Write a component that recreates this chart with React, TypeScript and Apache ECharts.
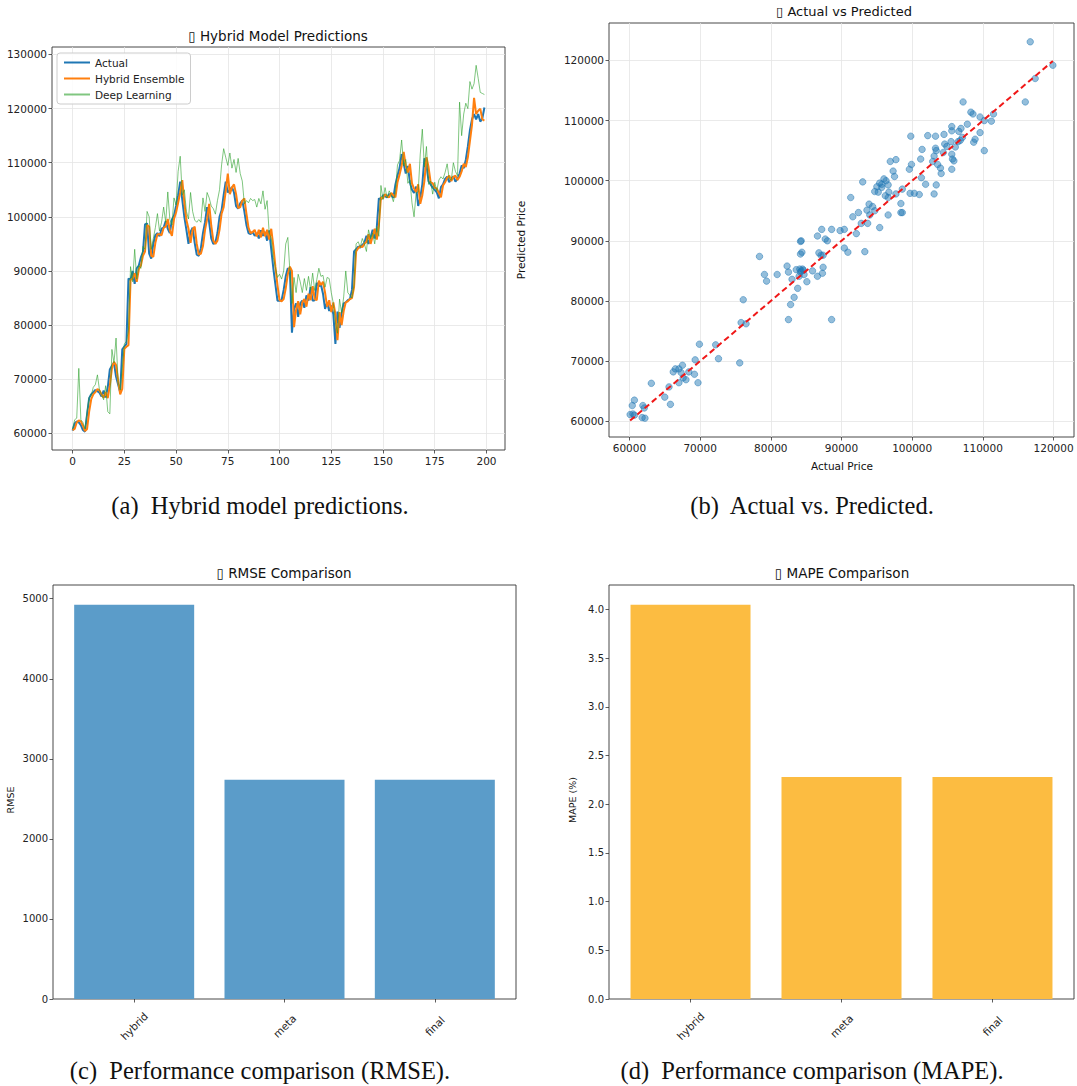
import React, { useEffect, useRef } from 'react';
import * as echarts from 'echarts';

// ---- Daily price series (thousands of USD), 200 test steps ----
const actualK = [
  60.5, 61.8, 62.2, 62.0, 61.5, 60.6, 60.3, 63.5, 66.5, 67.2,
  67.6, 68.0, 67.8, 67.5, 66.8, 67.9, 66.6, 68.5, 71.8, 72.5,
  73.0, 70.5, 69.0, 67.6, 75.5, 76.0, 76.5, 88.6, 88.4, 90.0,
  87.6, 90.5, 91.0, 92.5, 93.5, 98.6, 98.8, 93.2, 92.3, 95.0,
  96.6, 97.0, 96.4, 97.8, 98.0, 99.2, 97.8, 97.0, 99.5, 100.2,
  102.0, 104.0, 106.5, 103.2, 100.0, 97.6, 95.0, 97.2, 98.0, 95.2,
  93.0, 92.8, 94.2, 97.0, 99.0, 101.8, 99.0, 96.0, 95.0, 95.2,
  97.0, 100.0, 101.2, 104.0, 106.5, 104.5, 105.0, 105.5, 104.5, 102.0,
  101.5, 102.5, 103.0, 101.0, 98.5, 97.0, 96.8, 97.2, 96.5, 97.0,
  96.0, 97.5, 96.5, 97.2, 95.6, 97.5, 94.0, 90.5, 87.5, 84.5,
  84.5, 84.6, 86.5, 89.0, 90.5, 90.2, 78.6, 83.0, 84.0, 81.5,
  84.0, 84.5, 83.2, 85.5, 84.5, 87.0, 84.5, 84.6, 87.8, 87.2,
  87.5, 85.8, 83.0, 84.2, 82.6, 83.6, 82.0, 76.5, 82.5, 79.5,
  82.2, 84.0, 84.2, 84.6, 84.8, 86.5, 93.6, 94.0, 94.5, 94.3,
  94.8, 95.2, 96.5, 95.0, 96.2, 97.6, 96.0, 98.0, 103.4, 103.2,
  104.0, 103.8, 103.6, 104.2, 104.0, 103.5, 106.0, 107.6, 109.0, 111.6,
  109.8, 108.0, 109.4, 106.4, 105.0, 104.4, 105.6, 102.0, 103.5, 106.0,
  110.8, 109.5, 106.6, 106.0, 105.4, 105.0, 104.5, 103.4, 105.5, 106.0,
  107.0, 107.4, 106.4, 107.0, 107.5, 106.5, 107.0, 108.0, 109.5, 109.0,
  110.5, 113.0, 116.0, 118.0, 119.0, 118.0, 119.0, 117.6, 118.2, 120.2,
];

const hybridK = [
  60.6, 60.8, 62.0, 62.4, 62.2, 61.4, 60.4, 60.8, 64.0, 66.3,
  67.2, 67.6, 68.2, 67.9, 67.2, 66.6, 67.6, 66.5, 68.8, 72.0,
  73.2, 72.6, 69.8, 67.2, 68.2, 75.6, 76.0, 76.3, 88.3, 88.6,
  89.6, 88.0, 90.3, 91.0, 92.8, 93.6, 98.5, 98.2, 92.8, 92.6,
  95.2, 96.8, 96.8, 96.6, 98.0, 98.2, 99.6, 97.5, 96.5, 99.6,
  100.8, 102.6, 104.5, 106.8, 102.6, 99.4, 97.8, 95.2, 97.6, 98.2,
  95.0, 93.0, 93.2, 94.6, 97.6, 99.6, 102.4, 98.4, 95.6, 95.0,
  95.6, 97.6, 100.6, 101.8, 104.8, 108.0, 104.2, 105.4, 106.0, 104.2,
  101.6, 101.8, 103.0, 103.4, 100.6, 98.0, 97.0, 97.2, 97.6, 96.4,
  97.6, 96.2, 98.0, 96.4, 97.6, 95.8, 97.8, 94.6, 90.8, 87.4,
  84.6, 84.4, 84.8, 86.8, 89.4, 90.8, 90.0, 79.6, 82.8, 84.4,
  82.0, 84.2, 84.8, 83.4, 85.8, 84.6, 87.2, 84.8, 84.6, 88.2,
  87.4, 88.0, 86.0, 83.4, 84.6, 82.4, 84.2, 82.0, 77.2, 82.4,
  80.0, 82.6, 84.2, 84.4, 84.8, 85.0, 87.0, 93.6, 94.2, 94.6,
  94.4, 95.0, 95.4, 96.8, 95.0, 96.4, 97.8, 95.8, 98.4, 103.6,
  103.4, 104.2, 103.8, 103.6, 104.4, 104.0, 103.6, 106.4, 107.8, 109.4,
  112.0, 109.4, 108.2, 109.8, 106.2, 105.2, 104.6, 106.0, 102.4, 104.0,
  106.6, 111.0, 109.2, 106.4, 106.2, 105.4, 105.2, 104.4, 103.6, 105.8,
  106.4, 107.2, 107.6, 106.6, 107.4, 107.6, 106.8, 107.4, 108.4, 109.8,
  109.2, 111.0, 114.0, 117.0, 122.0, 119.0, 119.6, 120.0, 118.0, 117.8,
];

const deepK = [
  60.8, 62.5, 62.8, 72.0, 62.5, 62.0, 60.8, 64.0, 66.6, 67.0,
  68.5, 69.0, 70.8, 68.0, 67.2, 66.2, 68.8, 64.0, 63.6, 75.5,
  73.0, 77.6, 69.5, 68.0, 72.0, 76.5, 77.0, 79.0, 90.8, 88.0,
  94.0, 88.5, 91.0, 90.5, 94.5, 94.0, 101.0, 100.0, 94.0, 96.0,
  98.0, 100.6, 97.4, 99.0, 101.8, 99.0, 104.6, 99.5, 98.5, 103.5,
  102.2, 108.4, 111.2, 104.0, 105.0, 101.0, 99.6, 104.5, 101.0, 99.4,
  99.0, 99.5, 99.0, 103.5, 101.0, 104.5, 103.5, 102.0, 101.5, 100.5,
  103.0, 105.0, 109.6, 112.6, 111.0, 109.5, 111.8, 109.0, 110.6, 108.2,
  110.8, 108.0, 106.6, 102.4, 103.0, 102.6, 103.4, 103.0, 103.2, 101.8,
  103.4, 102.4, 104.8, 101.4, 103.0, 97.0, 96.0, 92.5, 90.6, 88.8,
  89.4, 88.5, 90.0, 95.0, 96.2, 90.0, 84.0, 88.8, 86.0, 89.4,
  88.0, 86.0, 88.6, 86.4, 89.0, 86.5, 89.6, 86.4, 88.4, 90.5,
  89.0, 89.2, 87.0, 88.8, 88.6, 86.0, 84.0, 80.5, 78.5, 84.8,
  82.2, 85.2, 90.0, 86.0, 85.5, 85.0, 87.4, 95.0, 95.4, 94.4,
  96.0, 95.0, 93.6, 97.6, 96.0, 97.0, 95.0, 98.2, 96.4, 105.8,
  103.2, 105.4, 103.5, 104.8, 104.0, 102.8, 104.6, 109.6, 110.4, 114.2,
  109.4, 110.6, 106.2, 106.8, 102.6, 100.0, 104.4, 104.6, 111.6, 116.2,
  109.2, 113.0, 106.0, 106.6, 104.2, 106.4, 104.8, 106.8, 107.4, 107.0,
  108.2, 109.8, 107.0, 106.8, 110.0, 108.4, 107.6, 121.2, 115.0, 119.0,
  121.0, 120.0, 125.0, 123.6, 124.6, 128.0, 125.6, 123.0, 122.8, 122.6,
];

// ---- Actual vs predicted pairs (thousands of USD) ----
const scatterActualK = [
  60.1, 60.5, 60.7, 60.4, 60.7, 61.8, 62.2, 61.9, 62.1, 63.1,
  65.0, 65.6, 65.8, 66.2, 66.5, 67.0, 67.0, 67.3, 67.5, 67.6,
  68.0, 68.4, 69.2, 69.3, 69.7, 69.9, 72.2, 72.6, 75.6, 75.8,
  76.1, 76.5, 78.4, 79.1, 79.4, 80.9, 82.3, 82.5, 82.5, 82.8,
  83.0, 83.3, 83.6, 83.8, 84.0, 84.1, 84.2, 84.3, 84.4, 84.5,
  84.7, 85.1, 85.9, 86.6, 86.8, 87.1, 87.3, 87.4, 87.4, 88.6,
  90.4, 90.9, 93.3, 88.0, 84.3, 84.6, 84.2,
  116.7, 119.9, 117.4, 116.0, 107.2, 108.3, 108.6, 111.5, 111.2, 109.6,
  110.2, 107.8, 105.6, 106.9, 105.6, 106.6, 109.6, 102.2, 103.3, 104.5,
  99.8, 107.1, 108.9, 106.8, 105.5, 106.5, 108.7, 104.6, 104.9, 103.3,
  106.1, 101.4, 103.4, 110.2, 104.4, 105.6, 103.1, 105.7, 101.2, 105.9,
  102.9, 103.6, 96.9, 97.7, 99.9, 104.0, 105.6, 104.1, 97.3, 99.6,
  93.0, 97.5, 101.3, 96.0, 96.3, 95.4, 95.7, 96.6, 101.9, 95.0,
  95.7, 103.4, 98.6, 94.7, 95.2, 96.7, 97.7, 99.7, 100.3, 101.0,
  103.1, 96.6, 96.2, 91.3, 98.4, 93.9, 94.4, 98.4, 98.6, 93.6,
  94.7, 92.4, 94.0, 96.6, 91.6, 92.8, 93.7, 95.4, 92.1, 86.6,
  87.2, 88.6, 89.8, 90.4, 87.7, 84.2,
];

const scatterPredictedK = [
  61.1, 61.2, 61.0, 62.6, 63.5, 60.6, 60.5, 62.6, 62.2, 66.3,
  64.0, 65.7, 62.8, 68.2, 68.7, 66.4, 68.7, 68.1, 69.3, 67.2,
  66.9, 68.2, 67.8, 70.2, 66.4, 72.8, 72.7, 70.4, 69.7, 76.4,
  80.2, 76.2, 87.4, 84.4, 83.3, 84.4, 85.8, 84.8, 76.9, 79.4,
  83.6, 80.6, 85.2, 82.1, 84.1, 85.3, 87.8, 90.0, 88.1, 85.3,
  84.4, 83.2, 85.0, 84.1, 88.0, 87.6, 84.6, 85.6, 87.6, 76.9,
  88.8, 88.1, 88.2, 90.0, 85.0, 85.1, 84.8,
  123.1, 119.2, 117.0, 113.1, 113.1, 111.4, 111.1, 111.1, 109.9, 110.6,
  110.0, 109.4, 109.0, 108.7, 108.3, 108.2, 108.0, 107.5, 107.4, 107.7,
  107.4, 107.2, 106.9, 106.7, 106.5, 106.5, 106.4, 106.1, 105.7, 105.4,
  105.6, 105.2, 105.0, 105.0, 104.7, 104.4, 104.1, 103.6, 103.6, 103.3,
  103.2, 102.7, 103.2, 103.5, 102.7, 102.1, 101.9, 101.2, 101.6, 101.9,
  99.8, 100.7, 100.5, 100.3, 100.0, 99.6, 99.4, 99.3, 99.4, 99.0,
  98.9, 99.3, 98.6, 98.2, 98.1, 98.1, 97.8, 97.9, 97.9, 97.7,
  97.8, 97.2, 97.5, 97.2, 96.2, 96.1, 95.7, 94.7, 94.7, 95.1,
  95.0, 94.7, 94.3, 94.3, 94.0, 92.9, 92.9, 92.2, 91.2, 90.8,
  91.9, 91.9, 91.7, 91.9, 90.3, 89.9,
];

// ---- Error metrics per model ----
const modelNames = ['hybrid', 'meta', 'final'];
const rmseValues = [4925, 2740, 2740];
const mapeValues = [4.05, 2.28, 2.28];

// ---- Tick labels ----
const stepTicks = [0, 25, 50, 75, 100, 125, 150, 175, 200];
const priceTicksLine = [60000, 70000, 80000, 90000, 100000, 110000, 120000, 130000];
const priceTicksScatter = [60000, 70000, 80000, 90000, 100000, 110000, 120000];
const rmseTicks = [0, 1000, 2000, 3000, 4000, 5000];
const mapeTicks = [0, 0.5, 1, 1.5, 2, 2.5, 3, 3.5, 4];
const modelTicks = [0, 1, 2];

const FONT = '"DejaVu Sans", sans-serif';
const SERIF = '"Liberation Serif", "Times New Roman", serif';
const TICK_COLOR = '#222';
const SPINE = '#333';
const GRID_LINE = '#e4e4e4';

// matplotlib-style auto limits: data extent padded by 5% on both sides
function padded(values: number[], frac = 0.05): [number, number] {
  const lo = Math.min(...values);
  const hi = Math.max(...values);
  const pad = (hi - lo) * frac;
  return [lo - pad, hi + pad];
}

function valueAxis(
  gridIndex: number,
  range: [number, number],
  ticks: number[],
  opts: { grid?: boolean; fmt?: (v: number) => string; fontSize?: number } = {}
) {
  const fmt = opts.fmt || ((v: number) => String(v));
  return {
    type: 'value',
    gridIndex,
    min: range[0],
    max: range[1],
    axisLine: { show: false, onZero: false },
    axisTick: {
      show: true,
      length: 3.5,
      customValues: ticks,
      lineStyle: { color: SPINE, width: 0.8 },
    },
    axisLabel: {
      customValues: ticks,
      formatter: (v: number) => fmt(v),
      color: TICK_COLOR,
      fontFamily: FONT,
      fontSize: opts.fontSize || 10.5,
      margin: 5,
      showMinLabel: true,
      showMaxLabel: true,
    },
    splitLine: {
      show: !!opts.grid,
      lineStyle: { color: GRID_LINE, width: 0.8 },
    },
  };
}

function App() {
  const ref = useRef<HTMLDivElement>(null);

  useEffect(() => {
    if (!ref.current) return;
    const chart = echarts.init(ref.current, undefined, { renderer: 'svg' });

    const toUsd = (arr: number[]) => arr.map((v) => v * 1000);
    const actual = toUsd(actualK);
    const hybrid = toUsd(hybridK);
    const deep = toUsd(deepK);
    const sActual = toUsd(scatterActualK);
    const sPred = toUsd(scatterPredictedK);

    const lineYRange = padded([...actual, ...hybrid, ...deep]);
    const lineXRange = padded([0, actual.length - 1]);
    const scXRange = padded(sActual);
    const scYRange = padded(sPred);
    const barXRange: [number, number] = [-0.4 - 0.14, 2.4 + 0.14];
    const diagLo = Math.min(...sActual);
    const diagHi = Math.max(...sActual);

    const grids = [
      { left: 52, top: 47, width: 453, height: 403 },
      { left: 609, top: 23, width: 465, height: 414 },
      { left: 53, top: 585, width: 463, height: 414 },
      { left: 609, top: 585, width: 465, height: 414 },
    ].map((g) => ({
      ...g,
      show: true,
      borderColor: SPINE,
      borderWidth: 0.9,
      backgroundColor: 'transparent',
    }));

    const catAxis = (gridIndex: number) => ({
      type: 'value',
      gridIndex,
      min: barXRange[0],
      max: barXRange[1],
      axisLine: { show: false, onZero: false },
      splitLine: { show: false },
      axisTick: {
        show: true,
        length: 3.5,
        customValues: modelTicks,
        lineStyle: { color: SPINE, width: 0.8 },
      },
      axisLabel: {
        customValues: modelTicks,
        formatter: (v: number) => modelNames[Math.round(v)] || '',
        rotate: 45,
        align: 'center',
        verticalAlign: 'middle',
        margin: 27,
        color: TICK_COLOR,
        fontFamily: FONT,
        fontSize: 10.5,
      },
    });

    const caption = (text: string, x: number, y: number) => ({
      type: 'text',
      x,
      y,
      style: {
        text,
        fill: '#111',
        font: `24.5px ${SERIF}`,
        textAlign: 'center',
        textVerticalAlign: 'middle',
        align: 'center',
        verticalAlign: 'middle',
      },
    });

    const label = (text: string, x: number, y: number, size: number, rotation = 0) => ({
      type: 'text',
      x,
      y,
      rotation,
      style: {
        text,
        fill: '#111',
        font: `${size}px ${FONT}`,
        textAlign: 'center',
        textVerticalAlign: 'middle',
        align: 'center',
        verticalAlign: 'middle',
      },
    });

    const option: any = {
      animation: false,
      backgroundColor: '#ffffff',
      textStyle: { fontFamily: FONT },
      grid: grids,
      legend: {
        data: ['Actual', 'Hybrid Ensemble', 'Deep Learning'],
        orient: 'vertical',
        left: 57,
        top: 53,
        itemWidth: 26,
        itemHeight: 10,
        itemGap: 5,
        padding: [4, 6, 4, 6],
        borderColor: '#cccccc',
        borderWidth: 1,
        borderRadius: 3,
        backgroundColor: 'rgba(255,255,255,0.85)',
        itemStyle: { opacity: 0 },
        textStyle: { fontFamily: FONT, fontSize: 10.5, color: '#222' },
      },
      xAxis: [
        valueAxis(0, lineXRange, stepTicks, { grid: true }),
        valueAxis(1, scXRange, priceTicksScatter, { grid: true }),
        catAxis(2),
        catAxis(3),
      ],
      yAxis: [
        valueAxis(0, lineYRange, priceTicksLine, { grid: true }),
        valueAxis(1, scYRange, priceTicksScatter, { grid: true }),
        valueAxis(2, [0, Math.max(...rmseValues) * 1.05], rmseTicks, { fontSize: 10 }),
        valueAxis(3, [0, Math.max(...mapeValues) * 1.05], mapeTicks, {
          fontSize: 10,
          fmt: (v) => v.toFixed(1),
        }),
      ],
      series: [
        {
          name: 'Actual',
          type: 'line',
          xAxisIndex: 0,
          yAxisIndex: 0,
          data: actual.map((v, i) => [i, v]),
          symbol: 'none',
          showSymbol: false,
          lineStyle: { color: '#1f77b4', width: 2 },
          itemStyle: { color: '#1f77b4' },
        },
        {
          name: 'Hybrid Ensemble',
          type: 'line',
          xAxisIndex: 0,
          yAxisIndex: 0,
          data: hybrid.map((v, i) => [i, v]),
          symbol: 'none',
          showSymbol: false,
          lineStyle: { color: '#ff7f0e', width: 2 },
          itemStyle: { color: '#ff7f0e' },
        },
        {
          name: 'Deep Learning',
          type: 'line',
          xAxisIndex: 0,
          yAxisIndex: 0,
          data: deep.map((v, i) => [i, v]),
          symbol: 'none',
          showSymbol: false,
          lineStyle: { color: '#2ca02c', width: 1, opacity: 0.6 },
          itemStyle: { color: '#2ca02c', opacity: 0.6 },
        },
        {
          name: 'Predictions',
          type: 'scatter',
          xAxisIndex: 1,
          yAxisIndex: 1,
          data: sActual.map((v, i) => [v, sPred[i]]),
          symbolSize: 6.5,
          itemStyle: {
            color: 'rgba(31,119,180,0.6)',
            borderColor: 'rgba(31,119,180,0.75)',
            borderWidth: 0.8,
          },
        },
        {
          name: 'Ideal',
          type: 'line',
          xAxisIndex: 1,
          yAxisIndex: 1,
          data: [
            [diagLo, diagLo],
            [diagHi, diagHi],
          ],
          symbol: 'none',
          showSymbol: false,
          lineStyle: { color: '#f01818', width: 2, type: [6, 3.5] },
          z: 5,
        },
        {
          name: 'RMSE',
          type: 'bar',
          xAxisIndex: 2,
          yAxisIndex: 2,
          data: rmseValues.map((v, i) => [i, v]),
          barWidth: 120,
          itemStyle: { color: '#5b9cc9' },
        },
        {
          name: 'MAPE',
          type: 'bar',
          xAxisIndex: 3,
          yAxisIndex: 3,
          data: mapeValues.map((v, i) => [i, v]),
          barWidth: 120,
          itemStyle: { color: '#fcbc41' },
        },
      ],
      graphic: [
        label('\u25AF Hybrid Model Predictions', 278, 36, 13.5),
        label('\u25AF Actual vs Predicted', 844, 11, 13),
        label('\u25AF RMSE Comparison', 284, 573, 13.5),
        label('\u25AF MAPE Comparison', 842, 573, 13.5),
        label('Actual Price', 842, 466, 10.5),
        label('Predicted Price', 521, 240, 10.5, Math.PI / 2),
        label('RMSE', 10, 800, 9.5, Math.PI / 2),
        label('MAPE (%)', 572, 800, 9.5, Math.PI / 2),
        caption('(a)  Hybrid model predictions.', 260, 505),
        caption('(b)  Actual vs. Predicted.', 812, 505),
        caption('(c)  Performance comparison (RMSE).', 260, 1070),
        caption('(d)  Performance comparison (MAPE).', 812, 1070),
      ],
    };

    chart.setOption(option);
    return () => chart.dispose();
  }, []);

  return (
    <div
      ref={ref}
      style={{ position: 'absolute', left: 0, top: 0, width: 1077, height: 1086, background: '#fff' }}
    />
  );
}

export default App;
